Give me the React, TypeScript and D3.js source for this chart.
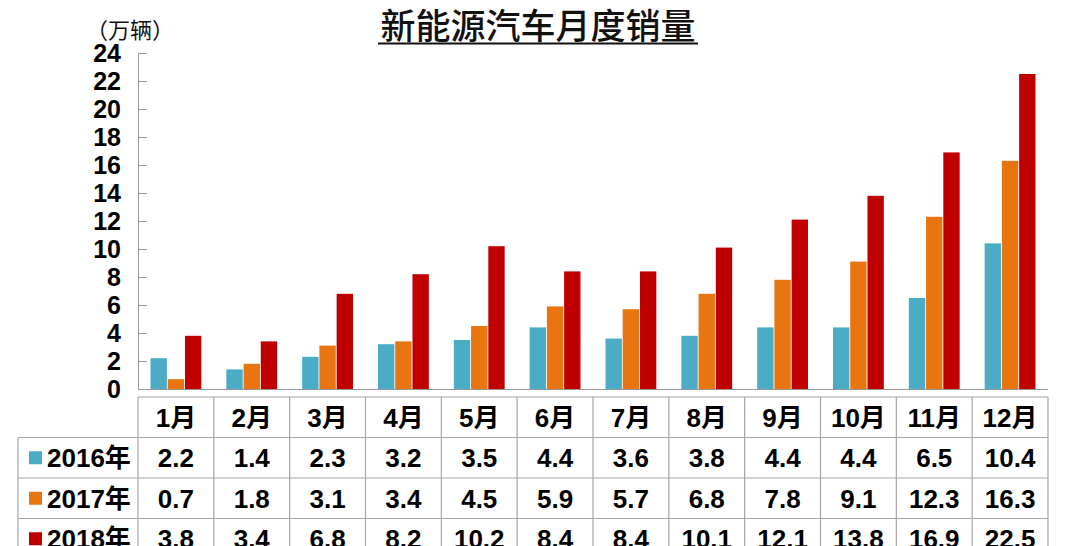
import * as d3 from "d3";
import { useEffect, useRef } from "react";

const months = ["1月", "2月", "3月", "4月", "5月", "6月", "7月", "8月", "9月", "10月", "11月", "12月"];
const seriesNames = ["2016年", "2017年", "2018年"];
const sales2016 = [2.2, 1.4, 2.3, 3.2, 3.5, 4.4, 3.6, 3.8, 4.4, 4.4, 6.5, 10.4];
const sales2017 = [0.7, 1.8, 3.1, 3.4, 4.5, 5.9, 5.7, 6.8, 7.8, 9.1, 12.3, 16.3];
const sales2018 = [3.8, 3.4, 6.8, 8.2, 10.2, 8.4, 8.4, 10.1, 12.1, 13.8, 16.9, 22.5];
const yTicks = [0, 2, 4, 6, 8, 10, 12, 14, 16, 18, 20, 22, 24];
const colors = ["#4bacc6", "#e8750f", "#c00000"];

const numFont = "'Liberation Sans', Arial, 'Noto Sans CJK SC', sans-serif";
const cjkFont = "'Noto Sans CJK SC', sans-serif";

const App = () => {
	const svgRef = useRef<SVGSVGElement>(null);

	useEffect(() => {
		if (!svgRef.current) return;
		const width = 1080;
		const height = 546;
		const svg = d3.select(svgRef.current).attr("width", width).attr("height", height);
		svg.selectAll("*").remove();

		const series = [sales2016, sales2017, sales2018];
		const left = 138;
		const right = 1048;

		const x = d3.scaleBand<string>().domain(months).range([left, right]).padding(0);
		const bw = x.bandwidth();
		const xInner = d3
			.scaleBand<string>()
			.domain(seriesNames)
			.range([12.5, bw - 12.5])
			.paddingInner(0.05);
		const y = d3.scaleLinear().domain([0, 24]).range([389, 53]);

		// titre
		svg
			.append("text")
			.attr("x", 538)
			.attr("y", 39)
			.attr("text-anchor", "middle")
			.style("font-family", cjkFont)
			.style("font-size", "35px")
			.style("font-weight", 500)
			.attr("fill", "#111")
			.text("新能源汽车月度销量");
		svg
			.append("line")
			.attr("x1", 378)
			.attr("x2", 698)
			.attr("y1", 43.5)
			.attr("y2", 43.5)
			.attr("stroke", "#111")
			.attr("stroke-width", 2);

		// unité
		svg
			.append("text")
			.attr("x", 86)
			.attr("y", 38)
			.style("font-family", cjkFont)
			.style("font-size", "22px")
			.attr("fill", "#111")
			.text("（万辆）");

		// axe y
		const yAxis = svg
			.append("g")
			.attr("transform", `translate(${left},0)`)
			.call(d3.axisRight(y).tickValues(yTicks).tickSize(9).tickFormat(() => ""));
		yAxis.select(".domain").attr("stroke", "#999");
		yAxis.selectAll(".tick line").attr("stroke", "#999");

		svg
			.append("g")
			.selectAll("text")
			.data(yTicks)
			.enter()
			.append("text")
			.attr("x", 121)
			.attr("y", (d) => y(d))
			.attr("dy", "0.36em")
			.attr("text-anchor", "end")
			.style("font-family", numFont)
			.style("font-size", "25px")
			.style("font-weight", "bold")
			.attr("fill", "#000")
			.text((d) => d);

		// barres
		series.forEach((vals, si) => {
			svg
				.append("g")
				.selectAll("rect")
				.data(vals)
				.enter()
				.append("rect")
				.attr("x", (_, i) => (x(months[i]) ?? 0) + (xInner(seriesNames[si]) ?? 0))
				.attr("y", (d) => y(d))
				.attr("width", xInner.bandwidth())
				.attr("height", (d) => y(0) - y(d))
				.attr("fill", colors[si]);
		});

		svg
			.append("line")
			.attr("x1", left)
			.attr("x2", right)
			.attr("y1", 389.5)
			.attr("y2", 389.5)
			.attr("stroke", "#999");

		// tableau
		const rowTop = 397;
		const rowH = 40.5;
		const tableLeft = 18;
		const grid = svg.append("g").attr("stroke", "#a6a6a6").attr("stroke-width", 1.2);
		// lignes horizontales
		grid.append("line").attr("x1", left).attr("x2", right).attr("y1", rowTop).attr("y2", rowTop);
		for (let r = 1; r <= 4; r++) {
			grid
				.append("line")
				.attr("x1", tableLeft)
				.attr("x2", right)
				.attr("y1", rowTop + r * rowH)
				.attr("y2", rowTop + r * rowH);
		}
		// lignes verticales
		months.forEach((m) => {
			grid
				.append("line")
				.attr("x1", x(m) ?? 0)
				.attr("x2", x(m) ?? 0)
				.attr("y1", rowTop)
				.attr("y2", height);
		});
		grid.append("line").attr("x1", right).attr("x2", right).attr("y1", rowTop).attr("y2", height);
		grid
			.append("line")
			.attr("x1", tableLeft)
			.attr("x2", tableLeft)
			.attr("y1", rowTop + rowH)
			.attr("y2", height);

		const cellText = (g: d3.Selection<SVGGElement, unknown, null, undefined>) =>
			g
				.style("font-family", numFont)
				.style("font-size", "26px")
				.style("font-weight", "bold")
				.attr("fill", "#000")
				.attr("text-anchor", "middle");

		svg
			.append("g")
			.call(cellText)
			.selectAll("text")
			.data(months)
			.enter()
			.append("text")
			.attr("x", (d) => (x(d) ?? 0) + bw / 2)
			.attr("y", rowTop + rowH / 2)
			.attr("dy", "0.36em")
			.text((d) => d);

		series.forEach((vals, si) => {
			const cy = rowTop + (si + 1) * rowH + rowH / 2;
			svg
				.append("g")
				.call(cellText)
				.selectAll("text")
				.data(vals)
				.enter()
				.append("text")
				.attr("x", (_, i) => (x(months[i]) ?? 0) + bw / 2)
				.attr("y", cy)
				.attr("dy", "0.36em")
				.text((d) => d.toFixed(1));

			svg
				.append("rect")
				.attr("x", 29)
				.attr("y", cy - 6.5)
				.attr("width", 13)
				.attr("height", 13)
				.attr("fill", colors[si]);

			svg
				.append("text")
				.attr("x", 47)
				.attr("y", cy)
				.attr("dy", "0.36em")
				.style("font-family", numFont)
				.style("font-size", "26px")
				.style("font-weight", "bold")
				.attr("fill", "#000")
				.text(seriesNames[si]);
		});
	}, []);

	return (
		<div style={{ position: "absolute", left: 0, top: 0, background: "#fff" }}>
			<svg ref={svgRef} style={{ display: "block" }}></svg>
		</div>
	);
};

export default App;
